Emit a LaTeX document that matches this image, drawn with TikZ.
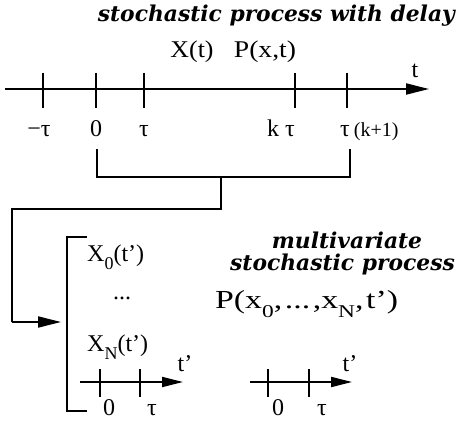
\documentclass[tikz,border=0pt]{standalone}
\usepackage{fontspec}
\setmainfont{Liberation Serif}
\newfontfamily\titlefont{DejaVu Serif Bold Italic}
\usetikzlibrary{arrows.meta}
\newcommand\lsub[1]{\raisebox{-0.32em}{\fontsize{18pt}{18pt}\selectfont #1}}
\newcommand\gap{\hspace{2pt}}
\begin{document}
\begin{tikzpicture}[x=1pt,y=-1pt,
  ln/.style={line width=1.9pt},
  tk/.style={line width=1.9pt},
  arr/.style={line width=1.9pt,-{Triangle[length=23pt,width=11pt]}},
  sarr/.style={line width=1.9pt,-{Triangle[length=21pt,width=10pt]}},
  lbl/.style={inner sep=0pt,anchor=base,font=\fontsize{24pt}{26pt}\selectfont},
  ttl/.style={inner sep=0pt,anchor=base,font=\titlefont\fontsize{21.8pt}{24pt}\selectfont}]
\useasboundingbox (0,0) rectangle (456,422);
% title
\node[ttl,anchor=base east] (title) at (455,22) {stochastic process with delay};
% main axis
\coordinate (a0) at (5,89);
\coordinate (a1) at (429,89);
\draw[arr] (a0) -- (a1);
\foreach \x/\n in {43/m,96/z,144/t,295/k,347/kk}{
  \coordinate (tt\n) at (\x,73);
  \coordinate (tb\n) at (\x,108);
  \draw[tk] (tt\n) -- (tb\n);
}
\node[lbl] (lm) at (39,137) {−τ};
\node[lbl] (lz) at (96,137) {0};
\node[lbl] (lt) at (144,137) {τ};
\node[lbl] (lk) at (281,137) {k\hspace{6pt}τ};
\node[lbl,anchor=base west] (lkk) at (340,137) {τ\hspace{4pt}{\fontsize{20pt}{20pt}\selectfont(k+1)}};
\node[lbl] (Xt) at (192,58) {\scalebox{1.08}[1]{X(t)}};
\node[lbl] (Pxt) at (265,58) {\scalebox{1.15}[1]{P(x,t)}};
\node[lbl] (tax) at (415,78) {t};
% bracket under axis
\coordinate (b1) at (97,149);
\coordinate (b2) at (97,177);
\coordinate (b3) at (350,177);
\coordinate (b4) at (350,149);
\draw[ln] (b1) -- (b2) -- (b3) -- (b4);
\coordinate (s1) at (221,177);
\coordinate (s2) at (221,209);
\coordinate (s3) at (12,209);
\coordinate (s4) at (12,322);
\coordinate (s5) at (61,322);
\draw[ln] (s1) -- (s2) -- (s3) -- (s4);
\draw[arr] (s4) -- (s5);
% big bracket
\coordinate (B1) at (87,237);
\coordinate (B2) at (67,237);
\coordinate (B3) at (67,411);
\coordinate (B4) at (87,411);
\draw[ln] (B1) -- (B2) -- (B3) -- (B4);
\node[lbl,anchor=base west] (X0) at (87,262) {X\lsub{0}(t’)};
\node[lbl] (dots) at (122,300) {...};
\node[lbl,anchor=base west] (XN) at (87,352) {X\lsub{N}(t’)};
% right texts
\node[ttl] (mv) at (347,249) {multivariate};
\node[ttl,anchor=base east] (sp) at (455,271) {stochastic process};
\node[lbl,anchor=base west,font=\fontsize{26pt}{26pt}\selectfont] (Pm) at (215,309) {\scalebox{1.3}[1]{P(x\lsub{0},\gap...\gap,x\lsub{N},\gap t’)}};
% small axes
\coordinate (c0) at (80,382);
\coordinate (c1) at (183,382);
\draw[sarr] (c0) -- (c1);
\foreach \x/\n in {100/a,140/b,268/c,309/d}{
  \coordinate (u\n) at (\x,369);
  \coordinate (v\n) at (\x,397);
  \draw[tk] (u\n) -- (v\n);
}
\coordinate (d0) at (250,382);
\coordinate (d1) at (352,382);
\draw[sarr] (d0) -- (d1);
\node[lbl] (z1) at (109,416) {0};
\node[lbl] (t1) at (152,416) {τ};
\node[lbl] (z2) at (278,416) {0};
\node[lbl] (t2) at (322,416) {τ};
\node[lbl] (tp1) at (185,372) {t’};
\node[lbl] (tp2) at (350,372) {t’};
\end{tikzpicture}
\end{document}
